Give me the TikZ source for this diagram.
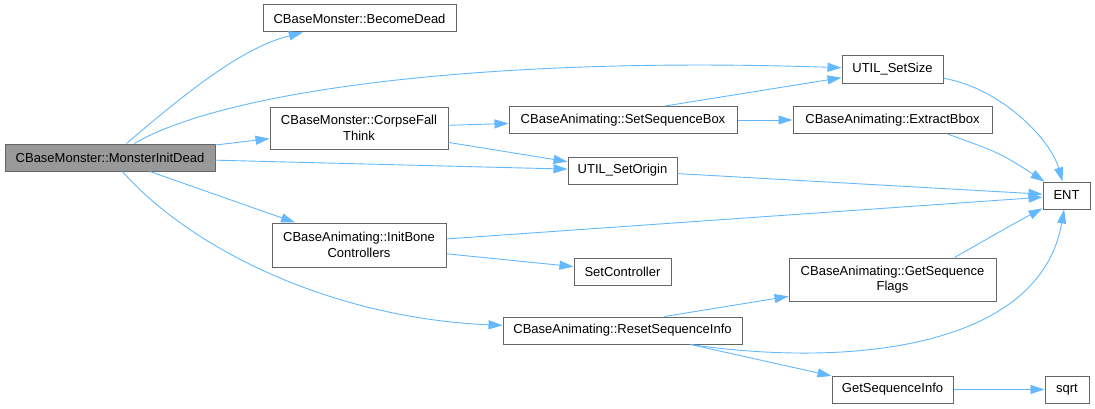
\documentclass[tikz,border=0pt]{standalone}
\usepackage{fontspec}
\setmainfont{Liberation Sans}
\usetikzlibrary{arrows.meta}
\definecolor{edgeblue}{HTML}{63B8FF}
\definecolor{boxgray}{HTML}{666666}
\definecolor{rootgray}{HTML}{999999}

\begin{document}
\begin{tikzpicture}[
  x=1pt, y=1pt,
  fn/.style={rectangle, draw=boxgray, line width=1pt, fill=white,
    font=\fontsize{13}{15.5}\selectfont, align=center, inner sep=2pt},
  root/.style={fn, fill=rootgray},
  call/.style={-{Triangle[length=14pt,width=9pt]}, edgeblue, line width=0.9pt}
]
  \useasboundingbox (0,0) rectangle (1095,408);

  % Functions of the call graph
  \node[root, minimum width=210pt, minimum height=27pt] (initdead) at (110,250.5) {CBaseMonster::MonsterInitDead};
  \node[fn, minimum width=193pt, minimum height=27pt] (become) at (359.5,389.5) {CBaseMonster::BecomeDead};
  \node[fn, minimum width=178pt, minimum height=42pt] (corpse) at (359,280) {CBaseMonster::CorpseFall\\Think};
  \node[fn, minimum width=174pt, minimum height=44pt] (initbone) at (359,163) {CBaseAnimating::InitBone\\Controllers};
  \node[fn, minimum width=228pt, minimum height=27pt] (seqbox) at (623,288) {CBaseAnimating::SetSequenceBox};
  \node[fn, minimum width=109pt, minimum height=27pt] (origin) at (622.5,237.5) {UTIL\_SetOrigin};
  \node[fn, minimum width=97pt, minimum height=27pt] (setctrl) at (622.5,136.5) {SetController};
  \node[fn, minimum width=239pt, minimum height=27pt] (reset) at (622.5,77.5) {CBaseAnimating::ResetSequenceInfo};
  \node[fn, minimum width=101pt, minimum height=27pt] (setsize) at (892.5,338.5) {UTIL\_SetSize};
  \node[fn, minimum width=199pt, minimum height=27pt] (bbox) at (892.5,288) {CBaseAnimating::ExtractBbox};
  \node[fn, minimum width=207pt, minimum height=43pt] (getflags) at (892.5,128.5) {CBaseAnimating::GetSequence\\Flags};
  \node[fn, minimum width=121pt, minimum height=27pt] (getinfo) at (892.5,18.5) {GetSequenceInfo};
  \node[fn, minimum width=47pt, minimum height=27pt] (ent) at (1066.5,212.5) {ENT};
  \node[fn, minimum width=44pt, minimum height=27pt] (sqrt) at (1067,18.5) {sqrt};

  % Calls from MonsterInitDead
  \draw[call] (initdead) .. controls (180,310) and (240,360) .. (become);
  \draw[call] (initdead) .. controls (230,320) and (500,352) .. (setsize);
  \draw[call] (initdead) -- (corpse);
  \draw[call] (initdead) -- (origin);
  \draw[call] (initdead) -- (initbone);
  \draw[call] (initdead) .. controls (190,160) and (330,90) .. (reset);

  % Calls further down
  \draw[call] (corpse) -- (seqbox);
  \draw[call] (corpse) -- (origin);
  \draw[call] ([xshift=42pt]seqbox.north) -- (setsize);
  \draw[call] (seqbox) -- (bbox);
  \draw[call] (initbone) -- (ent);
  \draw[call] (initbone) -- (setctrl);
  \draw[call] ([xshift=42pt]reset.north) -- (getflags);
  \draw[call] ([xshift=68pt]reset.south) .. controls (850,40) and (1040,60) .. (ent);
  \draw[call] ([xshift=68pt]reset.south) -- (getinfo);
  \draw[call] (setsize) .. controls (1000,320) and (1050,270) .. (ent);
  \draw[call] ([xshift=55pt]bbox.south) .. controls (1000,255) .. (ent);
  \draw[call] (origin) -- (ent);
  \draw[call] ([xshift=62pt]getflags.north) .. controls (1015,185) .. (ent);
  \draw[call] (getinfo) -- (sqrt);
\end{tikzpicture}
\end{document}
